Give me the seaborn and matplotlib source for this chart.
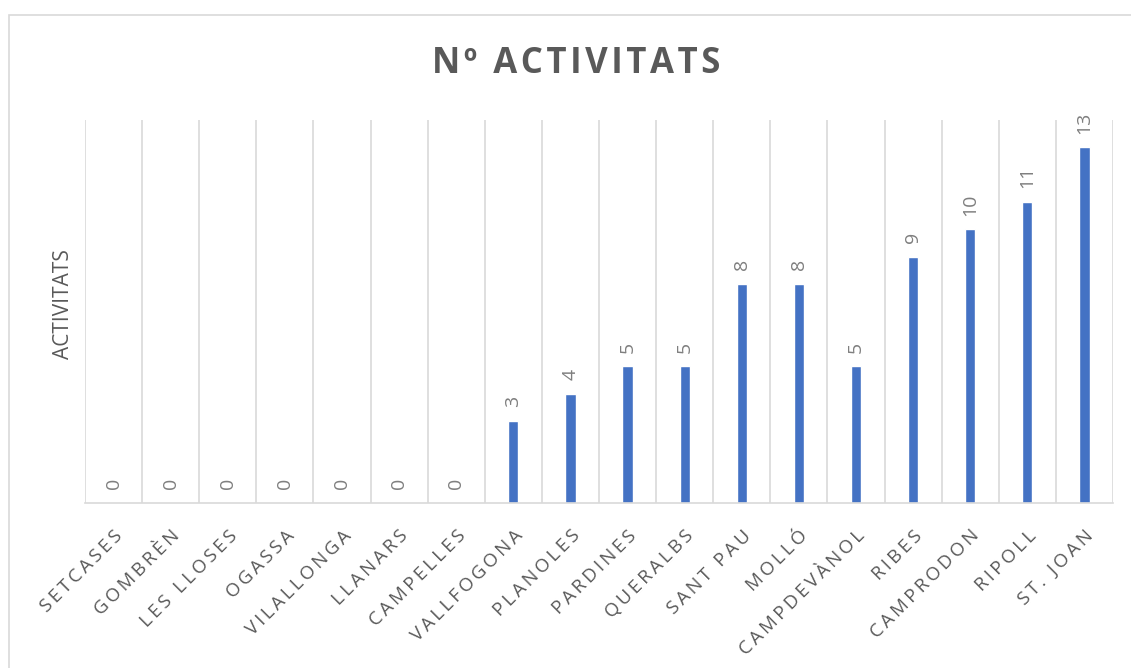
import matplotlib
matplotlib.use("Agg")
import matplotlib.pyplot as plt
import seaborn as sns
import pandas as pd
from matplotlib.patches import Rectangle

municipis = ["SETCASES", "GOMBRÈN", "LES LLOSES", "OGASSA", "VILALLONGA", "LLANARS",
             "CAMPELLES", "VALLFOGONA", "PLANOLES", "PARDINES", "QUERALBS", "SANT PAU",
             "MOLLÓ", "CAMPDEVÀNOL", "RIBES", "CAMPRODON", "RIPOLL", "ST. JOAN"]
activitats = [0, 0, 0, 0, 0, 0, 0, 3, 4, 5, 5, 8, 8, 5, 9, 10, 11, 13]

df = pd.DataFrame({"municipi": municipis, "activitats": activitats})

sns.set_theme(style="white")
fonts = ["Open Sans", "DejaVu Sans"]
plt.rcParams["font.family"] = fonts

def spaced(s, sep="\u2009"):
    return sep.join(s)

fig = plt.figure(figsize=(11.31, 6.68), dpi=100)
fig.patch.set_facecolor("white")
# chart-area frame
fig.patches.append(Rectangle((9 / 1131, -0.05), 1.2, (668 - 15) / 668 + 0.05,
                             transform=fig.transFigure, fill=False,
                             edgecolor="#d9d9d9", linewidth=1.2))

ax = fig.add_axes([85 / 1131, (668 - 503) / 668, (1113 - 85) / 1131, (503 - 120) / 668])
sns.barplot(data=df, x="municipi", y="activitats", color="#4472C4", width=0.18,
            saturation=1, ax=ax)

ax.set_ylim(0, 14)
ax.set_xlim(-0.5, len(municipis) - 0.5)
ax.set_yticks([])

# category separators
for b in [i - 0.5 for i in range(len(municipis) + 1)]:
    ax.axvline(b, color="#d9d9d9", linewidth=1.2, zorder=0)

for s in ["top", "right", "left"]:
    ax.spines[s].set_visible(False)
ax.spines["bottom"].set_color("#d9d9d9")
ax.spines["bottom"].set_linewidth(1.2)

ax.set_xticks(range(len(municipis)))
ax.set_xticklabels([spaced(m) for m in municipis], rotation=45, ha="right",
                   rotation_mode="anchor", fontsize=13.5, color="#595959")
ax.tick_params(axis="x", length=0, pad=17)
ax.set_xlabel("")
ax.set_ylabel("ACTIVITATS", fontsize=15, color="#595959")
ax.yaxis.set_label_coords(-0.011, 0.52)

for i, v in enumerate(activitats):
    ax.text(i, v + 0.5, str(v), rotation=90, ha="center", va="bottom",
            fontsize=14, color="#7f7f7f")

fig.text(576 / 1131, 1 - 64 / 668, spaced("Nº ACTIVITATS", "\u200a"), ha="center",
         va="center", fontsize=25, fontweight="bold", color="#595959")

fig.savefig("out.png", dpi=100)
